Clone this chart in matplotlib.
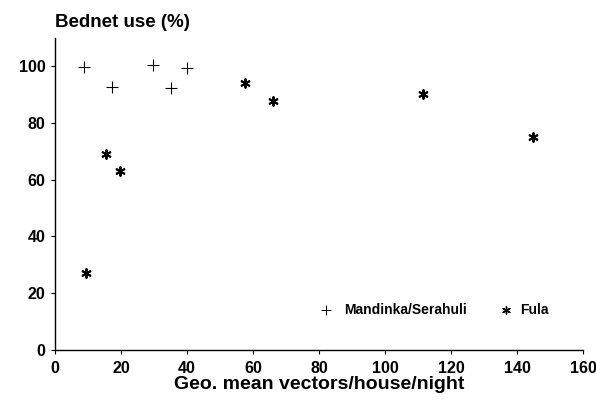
import matplotlib

matplotlib.use("Agg")
import matplotlib.pyplot as plt

plt.rcParams.update({
    "font.family": ["Liberation Sans", "DejaVu Sans"],
    "font.weight": "bold",
})

# Mandinka/Serahuli villages
mand_x = [8.8, 17.3, 29.8, 35.2, 40.0]
mand_y = [99.7, 92.7, 100.3, 92.2, 99.3]
# Fula villages
fula_x = [9.4, 15.5, 19.7, 57.6, 65.9, 111.6, 144.8]
fula_y = [27.0, 69.0, 63.0, 94.2, 87.8, 90.0, 75.0]

xticks = [0, 20, 40, 60, 80, 100, 120, 140, 160]
yticks = [0, 20, 40, 60, 80, 100]

fig = plt.figure(figsize=(5.96, 4.03), dpi=100)
ax = fig.add_axes([0.0923, 0.1315, 0.886, 0.775])

ax.scatter(mand_x, mand_y, marker="+", s=75, lw=0.8, color="black")
ax.scatter(fula_x, fula_y, marker=(6, 2, 0), s=40, lw=1.4, color="black")

# legend drawn as text, as in the original
ax.scatter([82], [14], marker="+", s=55, lw=0.7, color="black", clip_on=False)
ax.text(87.5, 14, "Mandinka/Serahuli", fontsize=10, va="center", ha="left")
ax.scatter([136.5], [14], marker=(6, 2, 0), s=30, lw=1.0, color="black")
ax.text(141, 14, "Fula", fontsize=10, va="center", ha="left")

ax.set_xlim(0, 160)
ax.set_ylim(0, 110)
ax.set_xticks(xticks)
ax.set_yticks(yticks)
for s in ("top", "right"):
    ax.spines[s].set_visible(False)
ax.spines["left"].set_linewidth(1.0)
ax.spines["bottom"].set_linewidth(1.0)
ax.tick_params(labelsize=11.5, length=3, width=0.8)
ax.tick_params(axis="x", pad=5)
ax.tick_params(axis="y", pad=4)
for lab in ax.get_xticklabels() + ax.get_yticklabels():
    lab.set_fontweight("bold")

ax.set_xlabel("Geo. mean vectors/house/night", fontsize=14, fontweight="bold", labelpad=0)
fig.text(0.092, 0.945, "Bednet use (%)", fontsize=13.5, ha="left", va="center", fontweight="bold")

fig.savefig("out.png", dpi=100)
